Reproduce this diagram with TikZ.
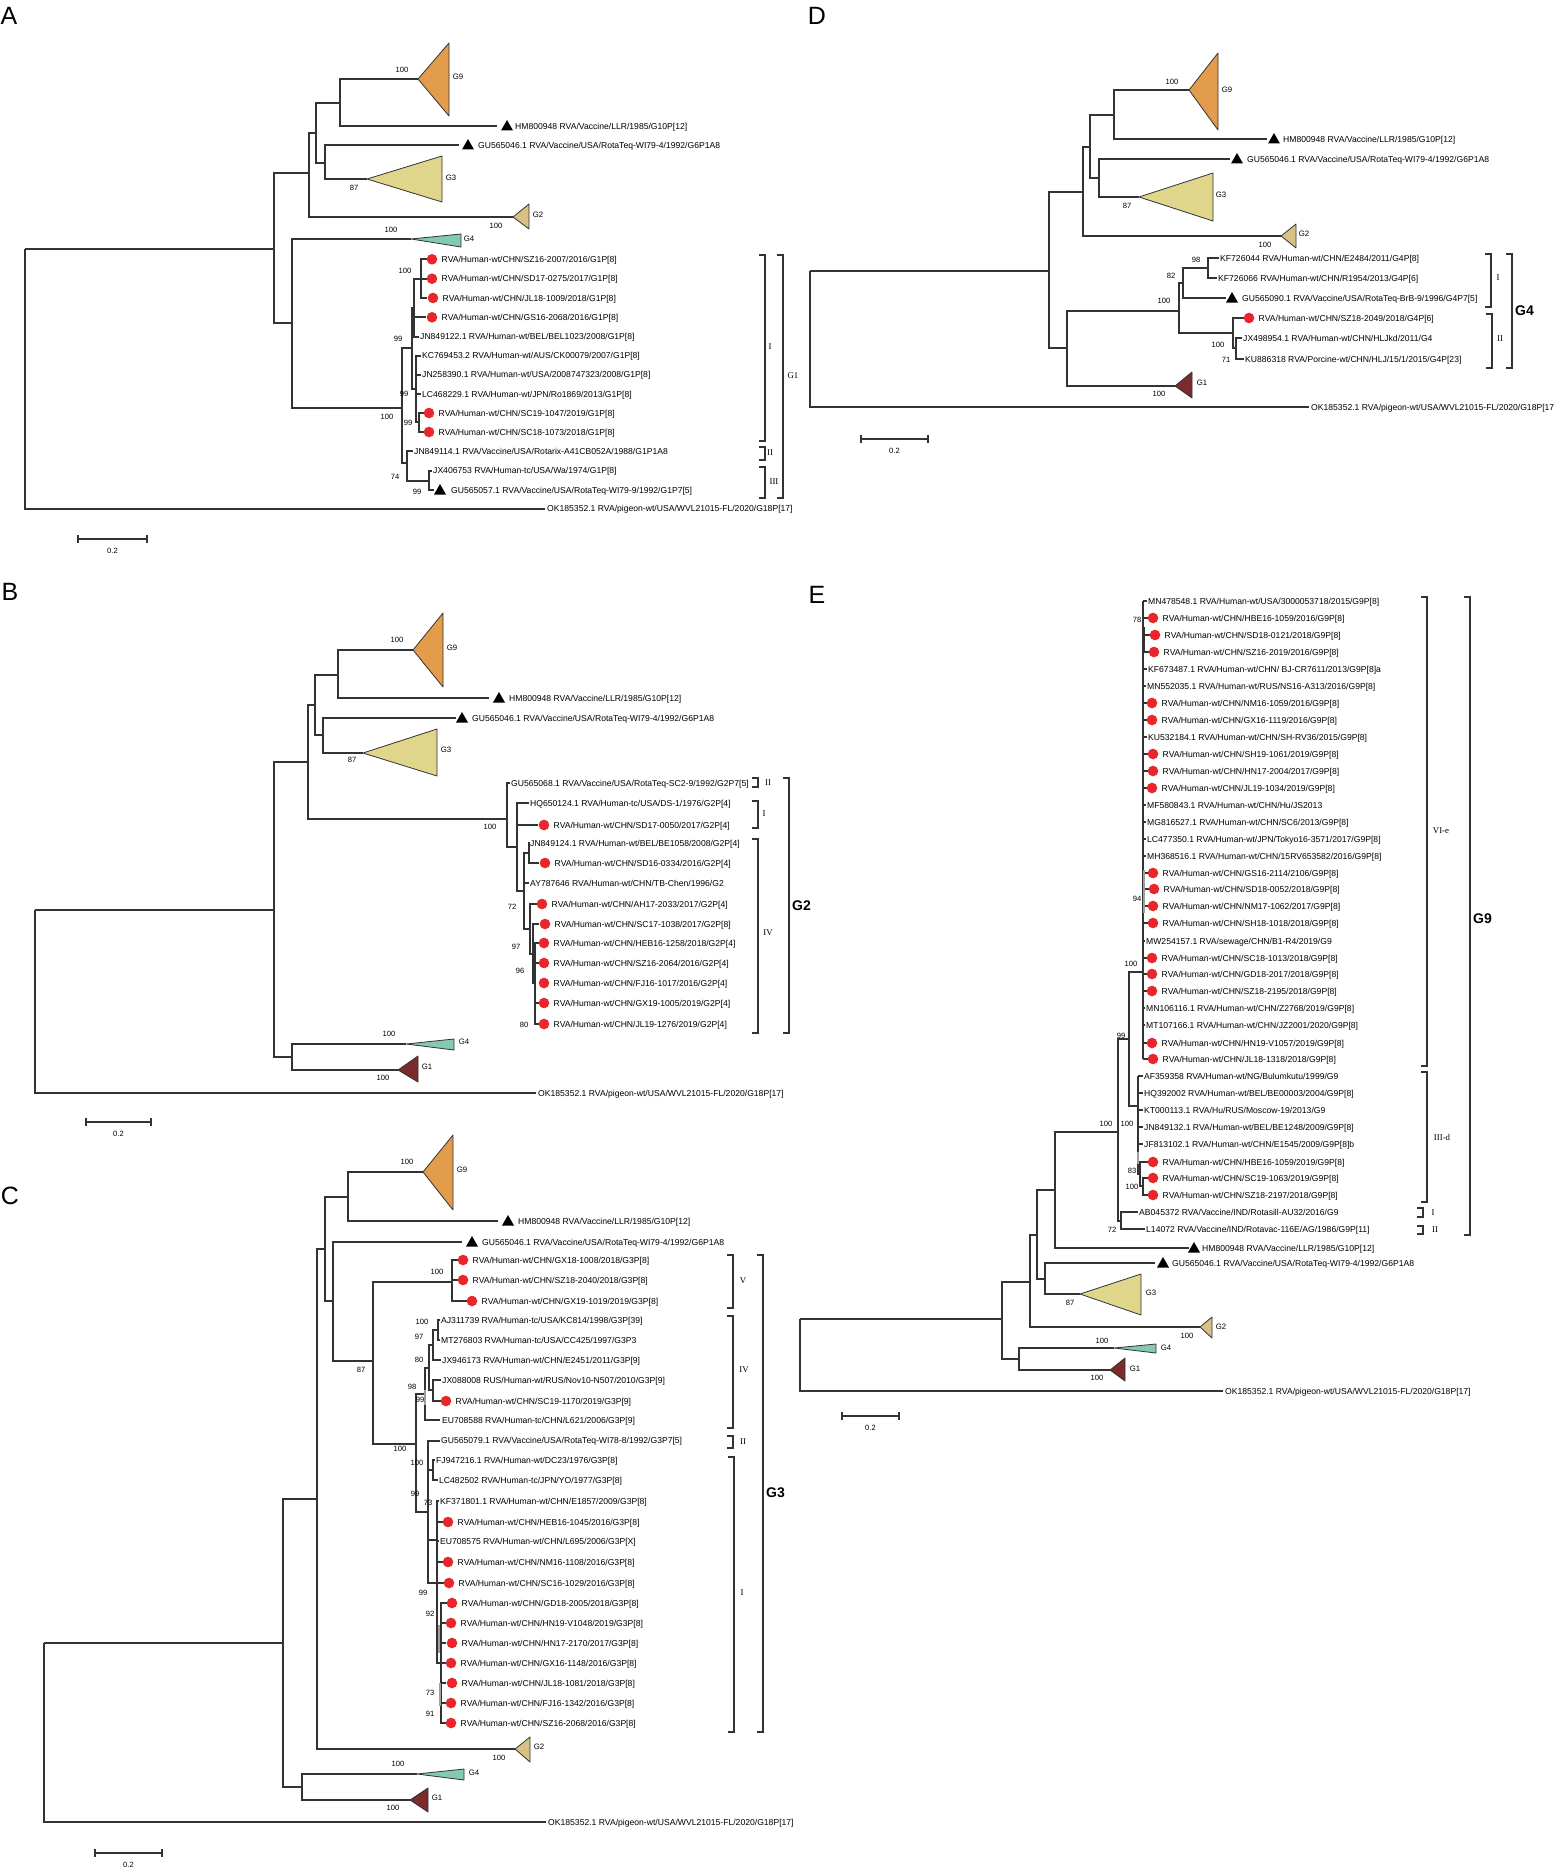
\documentclass[tikz,border=0pt]{standalone}
\usepackage{fontspec}
\setmainfont{Liberation Sans}
\newfontfamily\serf{Liberation Serif}
\definecolor{cGnine}{HTML}{E39B4C}
\definecolor{cGthree}{HTML}{DFD68C}
\definecolor{cGtwo}{HTML}{D8C185}
\definecolor{cGfour}{HTML}{84C9B4}
\definecolor{cGone}{HTML}{7B2B2B}
\definecolor{cdot}{HTML}{E8262B}
\definecolor{ln}{HTML}{333333}
\newcounter{nn}
\tikzset{
 br/.style={draw=ln, line width=1.1pt},
 leaf/.style={anchor=west, inner sep=0pt, font=\fontsize{8.6}{9}\selectfont, text height=6.2pt, text depth=0pt},
 boot/.style={inner sep=0pt, font=\fontsize{7.6}{8}\selectfont},
 clab/.style={inner sep=0pt, font=\fontsize{7.8}{8}\selectfont},
 rom/.style={inner sep=0pt, font=\serf\fontsize{8.8}{9}\selectfont},
 bld/.style={inner sep=0pt, anchor=west, font=\bfseries\fontsize{14}{15}\selectfont},
 plet/.style={inner sep=0pt, font=\fontsize{25}{26}\selectfont},
 clade/.style={draw=ln, line width=0.8pt, line join=round},
 bkt/.style={draw=ln, line width=1.1pt},
 thk/.style={line width=2.5pt, draw=gray!75},
}
\newcommand{\leafT}[3]{\stepcounter{nn}\node[leaf] (t\arabic{nn}) at (#1,#2) {#3};}
\newcommand{\dotT}[3]{\fill[cdot] (#1,#2) circle[radius=5.3pt];\leafT{#1+9.5}{#2}{#3}}
\newcommand{\triT}[4]{\fill[black] ({#1-6},{#2+4.5}) -- ({#1+6},{#2+4.5}) -- (#1,{#2-6}) -- cycle;\leafT{#3}{#2}{#4}}
\newcommand{\txtT}[4]{\stepcounter{nn}\node[#1] (x\arabic{nn}) at (#2,#3) {#4};}
\newcommand{\brkT}[3]{\draw[bkt] ({#1-6},#2) -- (#1,#2) -- (#1,#3) -- ({#1-6},#3);}
\newcommand{\cladeT}[6]{\draw[clade,fill=#6] (#1,#2) -- (#3,#4) -- (#3,#5) -- cycle;}
\newcommand{\sbarT}[4]{\draw[br] (#1,#3) -- (#2,#3); \draw[br] (#1,{#3-4}) -- (#1,{#3+4}); \draw[br] (#2,{#3-4}) -- (#2,{#3+4}); \stepcounter{nn}\node[boot] (s\arabic{nn}) at ({0.5*#1+0.5*#2},{#3+12}) {#4};}
\begin{document}
\begin{tikzpicture}[x=1pt,y=-1pt]
\fill[white] (0,0) rectangle (1555,1870);
\useasboundingbox (0,0) rectangle (1555,1870);

% ================= PANEL A =================
\txtT{plet}{9}{16}{A}
\draw[br] (25,249) -- (274,249);
\draw[br] (25,249) -- (25,509) -- (545,509);
\draw[br] (309,173) -- (274,173) -- (274,323) -- (292,323);
\draw[br] (316,133) -- (309,133) -- (309,217) -- (513,217);
\draw[br] (340,103) -- (316,103) -- (316,163) -- (325,163);
\draw[br] (418,79) -- (340,79) -- (340,126) -- (497,126);
\draw[br] (459,145) -- (325,145) -- (325,179) -- (367,179);
\draw[br] (411,239) -- (292,239) -- (292,408) -- (402,408);
\draw[br] (412,348) -- (402,348) -- (402,463) -- (407,463);
\draw[br] (414,308) -- (412,308) -- (412,389) -- (416,389);
\draw[br] (421,279) -- (414,279) -- (414,337) -- (419,337);
\draw[br] (414,317) -- (426,317);
\draw[br] (427,259) -- (421,259) -- (421,298) -- (427,298);
\draw[br] (421,279) -- (427,279);
\draw[br] (421,356) -- (416,356) -- (416,422) -- (419,422);
\draw[br] (416,375) -- (421,375);
\draw[br] (416,394) -- (421,394);
\draw[thk,draw=ln] (416,393) -- (416,412);
\draw[br] (424,413) -- (419,413) -- (419,432) -- (424,432);
\draw[br] (413,451) -- (407,451) -- (407,481) -- (429,481);
\draw[br] (432,471) -- (429,471) -- (429,490) -- (434,490);
\cladeT{418}{79}{449}{43}{116}{cGnine}
\cladeT{367}{179}{442}{156}{202}{cGthree}
\cladeT{513}{217}{529}{204}{229}{cGtwo}
\cladeT{411}{239}{461}{234}{247}{cGfour}
\txtT{clab}{458}{77}{G9}
\txtT{clab}{451}{178}{G3}
\txtT{clab}{538}{215}{G2}
\txtT{clab}{469}{239}{G4}
\txtT{boot}{402}{70}{100}
\txtT{boot}{354}{188}{87}
\txtT{boot}{496}{226}{100}
\txtT{boot}{391}{230}{100}
\txtT{boot}{405}{271}{100}
\txtT{boot}{398}{339}{99}
\txtT{boot}{404}{394}{99}
\txtT{boot}{387}{417}{100}
\txtT{boot}{408}{423}{99}
\txtT{boot}{395}{477}{74}
\txtT{boot}{417}{492}{99}
\triT{507}{126}{515}{HM800948 RVA/Vaccine/LLR/1985/G10P[12]}
\triT{468}{145}{478}{GU565046.1 RVA/Vaccine/USA/RotaTeq-WI79-4/1992/G6P1A8}
\dotT{432}{259.3}{RVA/Human-wt/CHN/SZ16-2007/2016/G1P[8]}
\dotT{432}{278.7}{RVA/Human-wt/CHN/SD17-0275/2017/G1P[8]}
\dotT{433}{298}{RVA/Human-wt/CHN/JL18-1009/2018/G1P[8]}
\dotT{432}{317.3}{RVA/Human-wt/CHN/GS16-2068/2016/G1P[8]}
\leafT{420}{336.7}{JN849122.1 RVA/Human-wt/BEL/BEL1023/2008/G1P[8]}
\leafT{422}{355.7}{KC769453.2 RVA/Human-wt/AUS/CK00079/2007/G1P[8]}
\leafT{422}{374.7}{JN258390.1 RVA/Human-wt/USA/2008747323/2008/G1P[8]}
\leafT{422}{394}{LC468229.1 RVA/Human-wt/JPN/Ro1869/2013/G1P[8]}
\dotT{429}{413}{RVA/Human-wt/CHN/SC19-1047/2019/G1P[8]}
\dotT{429}{432}{RVA/Human-wt/CHN/SC18-1073/2018/G1P[8]}
\leafT{414}{451.3}{JN849114.1 RVA/Vaccine/USA/Rotarix-A41CB052A/1988/G1P1A8}
\leafT{433}{470.7}{JX406753 RVA/Human-tc/USA/Wa/1974/G1P[8]}
\triT{440}{490}{451}{GU565057.1 RVA/Vaccine/USA/RotaTeq-WI79-9/1992/G1P7[5]}
\leafT{547}{508.7}{OK185352.1 RVA/pigeon-wt/USA/WVL21015-FL/2020/G18P[17]}
\brkT{765}{255}{441}
\brkT{765}{447}{460}
\brkT{765}{467}{498}
\brkT{783}{255}{498}
\txtT{rom}{770}{347}{I}
\txtT{rom}{770}{453}{II}
\txtT{rom}{774}{482}{III}
\txtT{rom}{793}{376}{G1}
\sbarT{78}{147}{539}{0.2}

% ================= PANEL B =================
\txtT{plet}{10}{592}{B}
\draw[br] (35,910) -- (274,910);
\draw[br] (35,910) -- (35,1093) -- (536,1093);
\draw[br] (308,762) -- (274,762) -- (274,1057) -- (292,1057);
\draw[br] (315,705) -- (308,705) -- (308,819) -- (507,819);
\draw[br] (338,675) -- (315,675) -- (315,735) -- (323,735);
\draw[br] (413,650) -- (338,650) -- (338,698) -- (489,698);
\draw[br] (456,718) -- (323,718) -- (323,753) -- (363,753);
\draw[br] (406,1044) -- (292,1044) -- (292,1070) -- (398,1070);
\draw[br] (510,783) -- (507,783) -- (507,847) -- (517,847);
\draw[br] (529,803) -- (517,803) -- (517,891) -- (524,891);
\draw[br] (517,825) -- (538,825);
\draw[br] (529,853) -- (524,853) -- (524,929) -- (530,929);
\draw[br] (524,883) -- (529,883);
\draw[br] (530,843) -- (529,843) -- (529,863) -- (539,863);
\draw[br] (537,904) -- (530,904) -- (530,954) -- (533,954);
\draw[br] (539,924) -- (533,924) -- (533,983) -- (535,983);
\draw[br] (539,943) -- (535,943) -- (535,1024) -- (539,1024);
\draw[br] (535,963) -- (539,963);
\draw[br] (535,1003) -- (539,1003);
\cladeT{413}{650}{443}{613}{687}{cGnine}
\cladeT{363}{753}{437}{729}{776}{cGthree}
\cladeT{406}{1044}{454}{1039}{1050}{cGfour}
\cladeT{398}{1070}{418}{1056}{1082}{cGone}
\txtT{clab}{452}{648}{G9}
\txtT{clab}{446}{750}{G3}
\txtT{clab}{464}{1042}{G4}
\txtT{clab}{427}{1067}{G1}
\txtT{boot}{397}{640}{100}
\txtT{boot}{352}{760}{87}
\txtT{boot}{490}{827}{100}
\txtT{boot}{512}{907}{72}
\txtT{boot}{516}{947}{97}
\txtT{boot}{520}{971}{96}
\txtT{boot}{524}{1025}{80}
\txtT{boot}{389}{1034}{100}
\txtT{boot}{383}{1078}{100}
\triT{499}{698}{509}{HM800948 RVA/Vaccine/LLR/1985/G10P[12]}
\triT{462}{718}{472}{GU565046.1 RVA/Vaccine/USA/RotaTeq-WI79-4/1992/G6P1A8}
\leafT{511}{783}{GU565068.1 RVA/Vaccine/USA/RotaTeq-SC2-9/1992/G2P7[5]}
\leafT{530}{803}{HQ650124.1 RVA/Human-tc/USA/DS-1/1976/G2P[4]}
\dotT{544}{825}{RVA/Human-wt/CHN/SD17-0050/2017/G2P[4]}
\leafT{530}{843}{JN849124.1 RVA/Human-wt/BEL/BE1058/2008/G2P[4]}
\dotT{545}{863}{RVA/Human-wt/CHN/SD16-0334/2016/G2P[4]}
\leafT{530}{883}{AY787646 RVA/Human-wt/CHN/TB-Chen/1996/G2}
\dotT{542}{904}{RVA/Human-wt/CHN/AH17-2033/2017/G2P[4]}
\dotT{545}{924}{RVA/Human-wt/CHN/SC17-1038/2017/G2P[8]}
\dotT{544}{943}{RVA/Human-wt/CHN/HEB16-1258/2018/G2P[4]}
\dotT{544}{963}{RVA/Human-wt/CHN/SZ16-2064/2016/G2P[4]}
\dotT{544}{983}{RVA/Human-wt/CHN/FJ16-1017/2016/G2P[4]}
\dotT{544}{1003}{RVA/Human-wt/CHN/GX19-1005/2019/G2P[4]}
\dotT{544}{1024}{RVA/Human-wt/CHN/JL19-1276/2019/G2P[4]}
\leafT{538}{1093}{OK185352.1 RVA/pigeon-wt/USA/WVL21015-FL/2020/G18P[17]}
\brkT{758}{778}{787}
\brkT{758}{801}{828}
\brkT{758}{839}{1033}
\brkT{789}{778}{1033}
\txtT{rom}{768}{783}{II}
\txtT{rom}{764}{814}{I}
\txtT{rom}{768}{933}{IV}
\txtT{bld}{792}{906}{G2}
\sbarT{86}{151}{1122}{0.2}

% ================= PANEL C =================
\txtT{plet}{10}{1196}{C}
\draw[br] (44,1643) -- (283,1643);
\draw[br] (44,1643) -- (44,1822) -- (546,1822);
\draw[br] (317,1499) -- (283,1499) -- (283,1787) -- (302,1787);
\draw[br] (325,1249) -- (317,1249) -- (317,1749) -- (515,1749);
\draw[br] (348,1197) -- (325,1197) -- (325,1301) -- (333,1301);
\draw[br] (423,1172) -- (348,1172) -- (348,1221) -- (498,1221);
\draw[br] (462,1242) -- (333,1242) -- (333,1361) -- (373,1361);
\draw[br] (452,1282) -- (373,1282) -- (373,1444) -- (416,1444);
\draw[br] (458,1260) -- (452,1260) -- (452,1301) -- (467,1301);
\draw[br] (452,1280) -- (458,1280);
\draw[br] (425,1394) -- (416,1394) -- (416,1512) -- (428,1512);
\draw[br] (429,1368) -- (425,1368) -- (425,1420) -- (440,1420);
\draw[br] (433,1345) -- (429,1345) -- (429,1390) -- (433,1390);
\draw[br] (438,1330) -- (433,1330) -- (433,1360) -- (441,1360);
\draw[br] (440,1320) -- (438,1320) -- (438,1340) -- (440,1340);
\draw[br] (441,1380) -- (433,1380) -- (433,1401) -- (441,1401);
\draw[br] (440,1441) -- (428,1441) -- (428,1583) -- (444,1583);
\draw[br] (428,1470) -- (433,1470);
\draw[br] (435,1460) -- (433,1460) -- (433,1480) -- (438,1480);
\draw[br] (428,1540) -- (437,1540);
\draw[br] (439,1501) -- (437,1501) -- (437,1663) -- (441,1663);
\draw[br] (437,1522) -- (443,1522);
\draw[br] (437,1541) -- (439,1541);
\draw[br] (437,1562) -- (443,1562);
\draw[br] (447,1603) -- (441,1603) -- (441,1723) -- (446,1723);
\foreach \yy in {1623,1643,1663,1683,1703} \draw[br] (441,\yy) -- (446,\yy);
\draw[thk,draw=ln] (428,1473) -- (428,1528);
\draw[thk] (439,1625) -- (439,1653);
\draw[thk] (440,1683) -- (440,1706);
\draw[thk] (425,1390) -- (425,1405);
\draw[br] (417,1774) -- (302,1774) -- (302,1800) -- (410,1800);
\cladeT{423}{1172}{453}{1135}{1210}{cGnine}
\cladeT{515}{1749}{530}{1737}{1762}{cGtwo}
\cladeT{417}{1774}{464}{1769}{1780}{cGfour}
\cladeT{410}{1800}{428}{1788}{1812}{cGone}
\txtT{clab}{462}{1170}{G9}
\txtT{clab}{539}{1747}{G2}
\txtT{clab}{474}{1773}{G4}
\txtT{clab}{437}{1798}{G1}
\txtT{boot}{407}{1162}{100}
\txtT{boot}{437}{1272}{100}
\txtT{boot}{361}{1370}{87}
\txtT{boot}{422}{1322}{100}
\txtT{boot}{419}{1337}{97}
\txtT{boot}{419}{1360}{80}
\txtT{boot}{412}{1387}{98}
\txtT{boot}{420}{1400}{99}
\txtT{boot}{400}{1449}{100}
\txtT{boot}{417}{1463}{100}
\txtT{boot}{415}{1494}{99}
\txtT{boot}{428}{1503}{73}
\txtT{boot}{423}{1593}{99}
\txtT{boot}{430}{1614}{92}
\txtT{boot}{430}{1693}{73}
\txtT{boot}{430}{1714}{91}
\txtT{boot}{499}{1758}{100}
\txtT{boot}{398}{1764}{100}
\txtT{boot}{393}{1808}{100}
\triT{508}{1221}{518}{HM800948 RVA/Vaccine/LLR/1985/G10P[12]}
\triT{472}{1242}{482}{GU565046.1 RVA/Vaccine/USA/RotaTeq-WI79-4/1992/G6P1A8}
\dotT{463}{1260}{RVA/Human-wt/CHN/GX18-1008/2018/G3P[8]}
\dotT{463}{1280}{RVA/Human-wt/CHN/SZ18-2040/2018/G3P[8]}
\dotT{472}{1301}{RVA/Human-wt/CHN/GX19-1019/2019/G3P[8]}
\leafT{441}{1320}{AJ311739 RVA/Human-tc/USA/KC814/1998/G3P[39]}
\leafT{441}{1340}{MT276803 RVA/Human-tc/USA/CC425/1997/G3P3}
\leafT{442}{1360}{JX946173 RVA/Human-wt/CHN/E2451/2011/G3P[9]}
\leafT{442}{1380}{JX088008 RUS/Human-wt/RUS/Nov10-N507/2010/G3P[9]}
\dotT{446}{1401}{RVA/Human-wt/CHN/SC19-1170/2019/G3P[9]}
\leafT{442}{1420}{EU708588 RVA/Human-tc/CHN/L621/2006/G3P[9]}
\leafT{441}{1440}{GU565079.1 RVA/Vaccine/USA/RotaTeq-WI78-8/1992/G3P7[5]}
\leafT{436}{1460}{FJ947216.1 RVA/Human-wt/DC23/1976/G3P[8]}
\leafT{439}{1480}{LC482502 RVA/Human-tc/JPN/YO/1977/G3P[8]}
\leafT{440}{1501}{KF371801.1 RVA/Human-wt/CHN/E1857/2009/G3P[8]}
\dotT{448}{1522}{RVA/Human-wt/CHN/HEB16-1045/2016/G3P[8]}
\leafT{440}{1541}{EU708575 RVA/Human-wt/CHN/L695/2006/G3P[X]}
\dotT{448}{1562}{RVA/Human-wt/CHN/NM16-1108/2016/G3P[8]}
\dotT{449}{1583}{RVA/Human-wt/CHN/SC16-1029/2016/G3P[8]}
\dotT{452}{1603}{RVA/Human-wt/CHN/GD18-2005/2018/G3P[8]}
\dotT{451}{1623}{RVA/Human-wt/CHN/HN19-V1048/2019/G3P[8]}
\dotT{452}{1643}{RVA/Human-wt/CHN/HN17-2170/2017/G3P[8]}
\dotT{451}{1663}{RVA/Human-wt/CHN/GX16-1148/2016/G3P[8]}
\dotT{452}{1683}{RVA/Human-wt/CHN/JL18-1081/2018/G3P[8]}
\dotT{451}{1703}{RVA/Human-wt/CHN/FJ16-1342/2016/G3P[8]}
\dotT{451}{1723}{RVA/Human-wt/CHN/SZ16-2068/2016/G3P[8]}
\leafT{548}{1822}{OK185352.1 RVA/pigeon-wt/USA/WVL21015-FL/2020/G18P[17]}
\brkT{733}{1255}{1308}
\brkT{733}{1316}{1428}
\brkT{733}{1436}{1448}
\brkT{734}{1457}{1732}
\brkT{763}{1255}{1732}
\txtT{rom}{743}{1281}{V}
\txtT{rom}{744}{1370}{IV}
\txtT{rom}{743}{1442}{II}
\txtT{rom}{742}{1593}{I}
\txtT{bld}{766}{1493}{G3}
\sbarT{95}{162}{1853}{0.2}

% ================= PANEL D =================
\txtT{plet}{817}{16}{D}
\draw[br] (810,271) -- (1049,271);
\draw[br] (810,271) -- (810,407) -- (1309,407);
\draw[br] (1083,192) -- (1049,192) -- (1049,348) -- (1067,348);
\draw[br] (1090,147) -- (1083,147) -- (1083,236) -- (1281,236);
\draw[br] (1114,115) -- (1090,115) -- (1090,178) -- (1099,178);
\draw[br] (1189,90) -- (1114,90) -- (1114,139) -- (1267,139);
\draw[br] (1230,159) -- (1099,159) -- (1099,197) -- (1139,197);
\draw[br] (1179,311) -- (1067,311) -- (1067,386) -- (1175,386);
\draw[br] (1183,283) -- (1179,283) -- (1179,333) -- (1233,333);
\draw[br] (1208,268) -- (1183,268) -- (1183,298) -- (1226,298);
\draw[br] (1219,258) -- (1208,258) -- (1208,278) -- (1217,278);
\draw[br] (1244,318) -- (1233,318) -- (1233,348) -- (1236,348);
\draw[br] (1242,338) -- (1236,338) -- (1236,359) -- (1244,359);
\cladeT{1189}{90}{1218}{53}{130}{cGnine}
\cladeT{1139}{197}{1213}{173}{221}{cGthree}
\cladeT{1281}{236}{1296}{224}{248}{cGtwo}
\cladeT{1175}{386}{1192}{372}{398}{cGone}
\txtT{clab}{1227}{90}{G9}
\txtT{clab}{1221}{195}{G3}
\txtT{clab}{1304}{234}{G2}
\txtT{clab}{1202}{383}{G1}
\txtT{boot}{1172}{82}{100}
\txtT{boot}{1127}{206}{87}
\txtT{boot}{1265}{245}{100}
\txtT{boot}{1196}{260}{98}
\txtT{boot}{1171}{276}{82}
\txtT{boot}{1164}{301}{100}
\txtT{boot}{1218}{345}{100}
\txtT{boot}{1226}{360}{71}
\txtT{boot}{1159}{394}{100}
\triT{1274}{139}{1283}{HM800948 RVA/Vaccine/LLR/1985/G10P[12]}
\triT{1237}{159}{1247}{GU565046.1 RVA/Vaccine/USA/RotaTeq-WI79-4/1992/G6P1A8}
\leafT{1220}{258}{KF726044 RVA/Human-wt/CHN/E2484/2011/G4P[8]}
\leafT{1218}{278}{KF726066 RVA/Human-wt/CHN/R1954/2013/G4P[6]}
\triT{1232}{298}{1242}{GU565090.1 RVA/Vaccine/USA/RotaTeq-BrB-9/1996/G4P7[5]}
\dotT{1249}{318}{RVA/Human-wt/CHN/SZ18-2049/2018/G4P[6]}
\leafT{1243}{338}{JX498954.1 RVA/Human-wt/CHN/HLJkd/2011/G4}
\leafT{1245}{359}{KU886318 RVA/Porcine-wt/CHN/HLJ/15/1/2015/G4P[23]}
\leafT{1311}{407}{OK185352.1 RVA/pigeon-wt/USA/WVL21015-FL/2020/G18P[17}
\brkT{1491}{254}{307}
\brkT{1492}{314}{368}
\brkT{1512}{254}{368}
\txtT{rom}{1498}{278}{I}
\txtT{rom}{1500}{339}{II}
\txtT{bld}{1515}{311}{G4}
\sbarT{861}{928}{439}{0.2}

% ================= PANEL E =================
\txtT{plet}{817}{595}{E}
\draw[br] (800,1319) -- (1002,1319);
\draw[br] (800,1319) -- (800,1391) -- (1223,1391);
\draw[br] (1030,1282) -- (1002,1282) -- (1002,1359) -- (1019,1359);
\draw[br] (1114,1348) -- (1019,1348) -- (1019,1370) -- (1110,1370);
\draw[br] (1037,1235) -- (1030,1235) -- (1030,1327) -- (1200,1327);
\draw[br] (1055,1190) -- (1037,1190) -- (1037,1279) -- (1045,1279);
\draw[br] (1118,1132) -- (1055,1132) -- (1055,1248) -- (1189,1248);
\draw[br] (1155,1263) -- (1045,1263) -- (1045,1294) -- (1080,1294);
\draw[br] (1129,1039) -- (1118,1039) -- (1118,1221) -- (1121,1221);
\draw[br] (1138,1212) -- (1121,1212) -- (1121,1229) -- (1145,1229);
\draw[br] (1143,972) -- (1129,972) -- (1129,1106) -- (1138,1106);
\draw[br] (1143,601) -- (1143,1059);
\foreach \yy/\xx in {601/1147,618/1148,635/1150,652/1149,669/1147,686/1146,703/1147,720/1147,737/1147,754/1148,771/1148,788/1147,805/1146,822/1146,839/1146,856/1146,873/1148,889/1149,906/1148,923/1148,941/1145,958/1147,974/1147,991/1147,1008/1145,1025/1145,1043/1147,1059/1148}
  \draw[br] (1143,\yy) -- (\xx,\yy);
\draw[br] (1138,1076) -- (1138,1174) -- (1140,1174);
\foreach \yy in {1076,1093,1110,1127,1144} \draw[br] (1138,\yy) -- (1143,\yy);
\draw[br] (1148,1162) -- (1140,1162) -- (1140,1186) -- (1143,1186);
\draw[br] (1148,1178) -- (1143,1178) -- (1143,1195) -- (1148,1195);
\draw[thk,draw=ln] (1144,627) -- (1144,653);
\draw[thk] (1144,870) -- (1144,913);
\draw[thk] (1138,1152) -- (1138,1164);
\cladeT{1080}{1294}{1141}{1274}{1315}{cGthree}
\cladeT{1200}{1327}{1212}{1317}{1338}{cGtwo}
\cladeT{1114}{1348}{1156}{1344}{1353}{cGfour}
\cladeT{1110}{1370}{1125}{1358}{1381}{cGone}
\txtT{clab}{1151}{1293}{G3}
\txtT{clab}{1221}{1327}{G2}
\txtT{clab}{1166}{1348}{G4}
\txtT{clab}{1135}{1369}{G1}
\txtT{boot}{1137}{620}{78}
\txtT{boot}{1137}{899}{94}
\txtT{boot}{1131}{964}{100}
\txtT{boot}{1121}{1036}{99}
\txtT{boot}{1106}{1124}{100}
\txtT{boot}{1127}{1124}{100}
\txtT{boot}{1132}{1171}{83}
\txtT{boot}{1132}{1187}{100}
\txtT{boot}{1112}{1230}{72}
\txtT{boot}{1070}{1303}{87}
\txtT{boot}{1187}{1336}{100}
\txtT{boot}{1102}{1341}{100}
\txtT{boot}{1097}{1378}{100}
\leafT{1148}{601}{MN478548.1 RVA/Human-wt/USA/3000053718/2015/G9P[8]}
\dotT{1153}{618}{RVA/Human-wt/CHN/HBE16-1059/2016/G9P[8]}
\dotT{1155}{635}{RVA/Human-wt/CHN/SD18-0121/2018/G9P[8]}
\dotT{1154}{652}{RVA/Human-wt/CHN/SZ16-2019/2016/G9P[8]}
\leafT{1148}{669}{KF673487.1 RVA/Human-wt/CHN/ BJ-CR7611/2013/G9P[8]a}
\leafT{1147}{686}{MN552035.1 RVA/Human-wt/RUS/NS16-A313/2016/G9P[8]}
\dotT{1152}{703}{RVA/Human-wt/CHN/NM16-1059/2016/G9P[8]}
\dotT{1152}{720}{RVA/Human-wt/CHN/GX16-1119/2016/G9P[8]}
\leafT{1148}{737}{KU532184.1 RVA/Human-wt/CHN/SH-RV36/2015/G9P[8]}
\dotT{1153}{754}{RVA/Human-wt/CHN/SH19-1061/2019/G9P[8]}
\dotT{1153}{771}{RVA/Human-wt/CHN/HN17-2004/2017/G9P[8]}
\dotT{1152}{788}{RVA/Human-wt/CHN/JL19-1034/2019/G9P[8]}
\leafT{1147}{805}{MF580843.1 RVA/Human-wt/CHN/Hu/JS2013}
\leafT{1147}{822}{MG816527.1 RVA/Human-wt/CHN/SC6/2013/G9P[8]}
\leafT{1147}{839}{LC477350.1 RVA/Human-wt/JPN/Tokyo16-3571/2017/G9P[8]}
\leafT{1147}{856}{MH368516.1 RVA/Human-wt/CHN/15RV653582/2016/G9P[8]}
\dotT{1153}{873}{RVA/Human-wt/CHN/GS16-2114/2106/G9P[8]}
\dotT{1154}{889}{RVA/Human-wt/CHN/SD18-0052/2018/G9P[8]}
\dotT{1153}{906}{RVA/Human-wt/CHN/NM17-1062/2017/G9P[8]}
\dotT{1153}{923}{RVA/Human-wt/CHN/SH18-1018/2018/G9P[8]}
\leafT{1146}{941}{MW254157.1 RVA/sewage/CHN/B1-R4/2019/G9}
\dotT{1152}{958}{RVA/Human-wt/CHN/SC18-1013/2018/G9P[8]}
\dotT{1152}{974}{RVA/Human-wt/CHN/GD18-2017/2018/G9P[8]}
\dotT{1152}{991}{RVA/Human-wt/CHN/SZ18-2195/2018/G9P[8]}
\leafT{1146}{1008}{MN106116.1 RVA/Human-wt/CHN/Z2768/2019/G9P[8]}
\leafT{1146}{1025}{MT107166.1 RVA/Human-wt/CHN/JZ2001/2020/G9P[8]}
\dotT{1152}{1043}{RVA/Human-wt/CHN/HN19-V1057/2019/G9P[8]}
\dotT{1153}{1059}{RVA/Human-wt/CHN/JL18-1318/2018/G9P[8]}
\leafT{1144}{1076}{AF359358 RVA/Human-wt/NG/Bulumkutu/1999/G9}
\leafT{1144}{1093}{HQ392002 RVA/Human-wt/BEL/BE00003/2004/G9P[8]}
\leafT{1144}{1110}{KT000113.1 RVA/Hu/RUS/Moscow-19/2013/G9}
\leafT{1144}{1127}{JN849132.1 RVA/Human-wt/BEL/BE1248/2009/G9P[8]}
\leafT{1144}{1144}{JF813102.1 RVA/Human-wt/CHN/E1545/2009/G9P[8]b}
\dotT{1153}{1162}{RVA/Human-wt/CHN/HBE16-1059/2019/G9P[8]}
\dotT{1153}{1178}{RVA/Human-wt/CHN/SC19-1063/2019/G9P[8]}
\dotT{1153}{1195}{RVA/Human-wt/CHN/SZ18-2197/2018/G9P[8]}
\leafT{1139}{1212}{AB045372 RVA/Vaccine/IND/Rotasill-AU32/2016/G9}
\leafT{1146}{1229}{L14072 RVA/Vaccine/IND/Rotavac-116E/AG/1986/G9P[11]}
\triT{1194}{1248}{1202}{HM800948 RVA/Vaccine/LLR/1985/G10P[12]}
\triT{1163}{1263}{1172}{GU565046.1 RVA/Vaccine/USA/RotaTeq-WI79-4/1992/G6P1A8}
\leafT{1225}{1391}{OK185352.1 RVA/pigeon-wt/USA/WVL21015-FL/2020/G18P[17]}
\brkT{1427}{597}{1066}
\brkT{1427}{1072}{1202}
\brkT{1423}{1208}{1217}
\brkT{1423}{1226}{1234}
\brkT{1470}{597}{1235}
\txtT{rom}{1441}{831}{VI-e}
\txtT{rom}{1442}{1137}{III-d}
\txtT{rom}{1433}{1213}{I}
\txtT{rom}{1435}{1230}{II}
\txtT{bld}{1473}{919}{G9}
\sbarT{842}{899}{1416}{0.2}
\end{tikzpicture}
\end{document}
